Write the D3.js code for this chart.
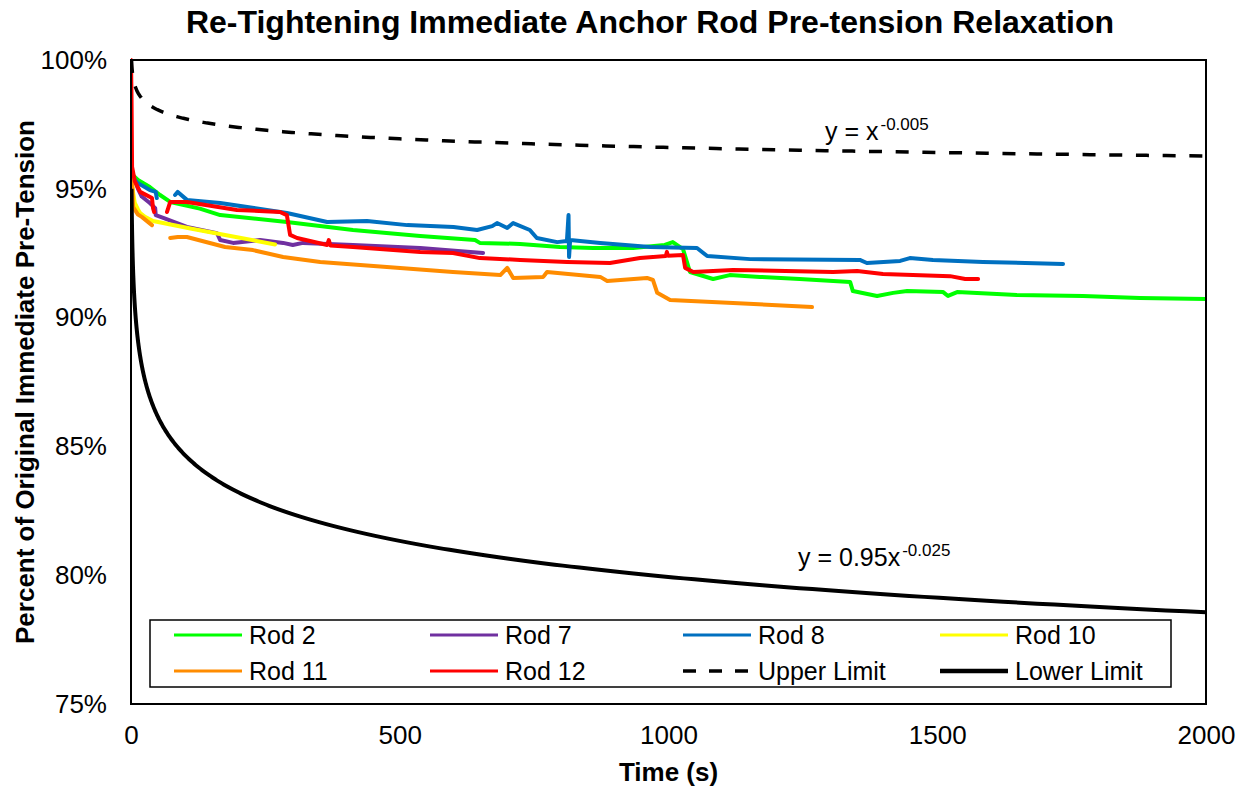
<!DOCTYPE html>
<html>
<head>
<meta charset="utf-8">
<script src="https://cdn.jsdelivr.net/npm/d3@7"></script>
<style>
  html, body { margin: 0; padding: 0; background: #fff; }
  svg { display: block; font-family: "Liberation Sans", Arial, sans-serif; }
</style>
</head>
<body>
<svg id="chart" width="1245" height="788"></svg>
<script>
// Measured pre-tension (% of original immediate pre-tension) vs time (s).
// null marks a break in the record.
const rod2 = [[0,95.6],[13,95.34],[35,95.07],[54,94.76],[73,94.49],[128,94.23],[166,93.98],[290,93.71],[413,93.40],[538,93.17],[640,93.01],[649,92.90],[724,92.86],[798,92.74],[860,92.70],[934,92.70],[993,92.82],[1008,92.93],[1027,92.66],[1040,91.77],[1083,91.50],[1114,91.65],[1170,91.58],[1244,91.50],[1338,91.38],[1343,91.03],[1388,90.84],[1418,90.96],[1444,91.03],[1511,90.99],[1520,90.84],[1537,90.99],[1648,90.88],[1771,90.84],[1877,90.76],[2000,90.72]];
const rod7 = [[0,95.9],[4,95.5],[13,95.0],[20,94.7],[35,94.45],[45,94.25],[46,93.98],[60,93.87],[104,93.52],[160,93.28],[166,93.01],[190,92.90],[240,93.01],[283,92.90],[301,92.82],[320,92.90],[413,92.82],[538,92.70],[655,92.51]];
const rod8 = [[0,95.7],[4,95.4],[13,95.22],[35,94.95],[46,94.88],[48,94.64],null,[82,94.76],[87,94.88],[104,94.57],[166,94.45],[290,94.06],[365,93.71],[439,93.75],[514,93.59],[600,93.52],[644,93.40],[672,93.55],[681,93.67],[700,93.48],[711,93.67],[742,93.40],[755,93.09],[793,92.93],[811,92.97],[814,93.98],[815,92.35],[817,93.01],[873,92.90],[966,92.74],[1053,92.70],[1072,92.39],[1152,92.27],[1356,92.24],[1369,92.12],[1431,92.20],[1449,92.31],[1492,92.24],[1585,92.16],[1734,92.08]];
const rod10 = [[0,95.6],[2,95.2],[4,94.84],[7,94.45],[13,94.2],[17,94.06],[26,93.91],[41,93.75],[113,93.45],[175,93.21],[268,92.84]];
const rod11 = [[0,95.6],[2,95.3],[4,94.29],[13,94.0],[20,93.91],[39,93.59],null,[73,93.09],[87,93.13],[104,93.13],[175,92.74],[227,92.62],[283,92.35],[352,92.16],[476,91.96],[599,91.77],[687,91.65],[700,91.93],[711,91.54],[767,91.58],[774,91.77],[873,91.58],[886,91.42],[960,91.54],[971,91.46],[979,90.96],[1003,90.68],[1120,90.57],[1267,90.41]];
const rod12 = [[0,100],[1,98.5],[2,95.85],[7,95.3],[17,94.88],[39,94.64],[41,94.25],[43,94.10],null,[67,94.10],[73,94.49],[104,94.49],[197,94.18],[277,94.10],[290,93.98],[296,93.21],[309,93.09],[365,92.82],[368,93.01],[371,92.80],[413,92.74],[538,92.55],[599,92.51],[649,92.31],[724,92.24],[811,92.16],[891,92.12],[947,92.31],[995,92.39],[997,92.55],[999,92.40],[1027,92.43],[1031,91.93],[1046,91.77],[1120,91.85],[1306,91.77],[1351,91.81],[1399,91.69],[1524,91.61],[1552,91.50],[1576,91.50]];

// Limit curves: y = a * t^b (fraction of pre-tension)
const upperLimit = { a: 1.00, b: -0.005 };
const lowerLimit = { a: 0.95, b: -0.025 };

const seriesNames = ["Rod 2", "Rod 7", "Rod 8", "Rod 10", "Rod 11", "Rod 12"];
const seriesColors = ["#00ff00", "#7030a0", "#0070c0", "#ffff00", "#ff8c00", "#ff0000"];
const seriesData = [rod2, rod7, rod8, rod10, rod11, rod12];

const xTicks = [0, 500, 1000, 1500, 2000];
const yTicks = [75, 80, 85, 90, 95, 100];

const svg = d3.select("#chart");
const plot = { left: 131, right: 1206, top: 60, bottom: 704 };

const x = d3.scaleLinear().domain([0, 2000]).range([plot.left, plot.right]);
const y = d3.scaleLinear().domain([75, 100]).range([plot.bottom, plot.top]);

svg.append("defs").append("clipPath").attr("id", "plotClip")
  .append("rect")
  .attr("x", plot.left).attr("y", plot.top - 2)
  .attr("width", plot.right - plot.left).attr("height", plot.bottom - plot.top + 2);

// Title
svg.append("text")
  .attr("x", 650).attr("y", 33)
  .attr("text-anchor", "middle")
  .attr("font-size", 32).attr("font-weight", "bold")
  .text("Re-Tightening Immediate Anchor Rod Pre-tension Relaxation");

// Axes
const xAxis = svg.append("g")
  .attr("transform", `translate(0,${plot.bottom})`)
  .call(d3.axisBottom(x).tickValues(xTicks).tickSize(0).tickPadding(22).tickFormat(d3.format("d")));
xAxis.select(".domain").remove();
xAxis.selectAll("text").attr("font-size", 26).attr("fill", "#000").attr("font-family", "Liberation Sans, Arial, sans-serif");

const yAxis = svg.append("g")
  .attr("transform", `translate(${plot.left},0)`)
  .call(d3.axisLeft(y).tickValues(yTicks).tickSize(0).tickPadding(24).tickFormat(d => d + "%"));
yAxis.select(".domain").remove();
yAxis.selectAll("text").attr("font-size", 26).attr("fill", "#000").attr("font-family", "Liberation Sans, Arial, sans-serif");

// Axis titles
svg.append("text")
  .attr("x", (plot.left + plot.right) / 2).attr("y", 781)
  .attr("text-anchor", "middle")
  .attr("font-size", 26).attr("font-weight", "bold")
  .text("Time (s)");

svg.append("text")
  .attr("transform", `translate(34,${(plot.top + plot.bottom) / 2}) rotate(-90)`)
  .attr("text-anchor", "middle")
  .attr("font-size", 26).attr("font-weight", "bold")
  .text("Percent of Original Immediate Pre-Tension");

// Measured series
const line = d3.line()
  .defined(d => d !== null)
  .x(d => x(d[0]))
  .y(d => y(d[1]));

const lines = svg.append("g").attr("clip-path", "url(#plotClip)");

seriesData.forEach((data, i) => {
  lines.append("path")
    .datum(data)
    .attr("fill", "none")
    .attr("stroke", seriesColors[i])
    .attr("stroke-width", 4)
    .attr("stroke-linejoin", "round")
    .attr("stroke-linecap", "round")
    .attr("d", line);
});

// Limit curves, sampled on a log-spaced time grid
const curveTimes = d3.range(0, 401).map(i => Math.pow(2000, i / 400));
const powerCurve = p => curveTimes.map(t => [t, 100 * p.a * Math.pow(t, p.b)]);

lines.append("path")
  .datum(powerCurve(upperLimit))
  .attr("fill", "none")
  .attr("stroke", "#000")
  .attr("stroke-width", 3.5)
  .attr("stroke-dasharray", "13,13.7")
  .attr("d", line);

lines.append("path")
  .datum(powerCurve(lowerLimit))
  .attr("fill", "none")
  .attr("stroke", "#000")
  .attr("stroke-width", 4)
  .attr("d", line);

// Plot frame
svg.append("rect")
  .attr("x", plot.left).attr("y", plot.top)
  .attr("width", plot.right - plot.left).attr("height", plot.bottom - plot.top)
  .attr("fill", "none").attr("stroke", "#000").attr("stroke-width", 2);

// Equation labels
function equation(xPos, yPos, base, exponent) {
  const t = svg.append("text").attr("x", xPos).attr("y", yPos).attr("font-size", 25);
  t.append("tspan").text(base);
  t.append("tspan").attr("font-size", 17).attr("dy", -10).attr("dx", 2).text(exponent);
}
equation(825, 140, "y = x", "-0.005");
equation(798, 566, "y = 0.95x", "-0.025");

// Legend
const legend = svg.append("g");
legend.append("rect")
  .attr("x", 150).attr("y", 620).attr("width", 1021).attr("height", 67)
  .attr("fill", "#fff").attr("stroke", "#000").attr("stroke-width", 1.5);

const legendItems = seriesNames.map((n, i) => ({ name: n, color: seriesColors[i], width: 3, dash: null }))
  .concat([
    { name: "Upper Limit", color: "#000", width: 3.5, dash: "13,13" },
    { name: "Lower Limit", color: "#000", width: 4.5, dash: null }
  ]);
const colX = [174, 430, 683, 940];
const rowY = [635, 671];

legendItems.forEach((item, i) => {
  const cx = colX[i % 4], cy = rowY[Math.floor(i / 4)];
  legend.append("line")
    .attr("x1", cx).attr("x2", cx + 68)
    .attr("y1", cy).attr("y2", cy)
    .attr("stroke", item.color).attr("stroke-width", item.width)
    .attr("stroke-dasharray", item.dash);
  legend.append("text")
    .attr("x", cx + 75).attr("y", cy)
    .attr("dy", "0.35em")
    .attr("font-size", 25)
    .text(item.name);
});
</script>
</body>
</html>
